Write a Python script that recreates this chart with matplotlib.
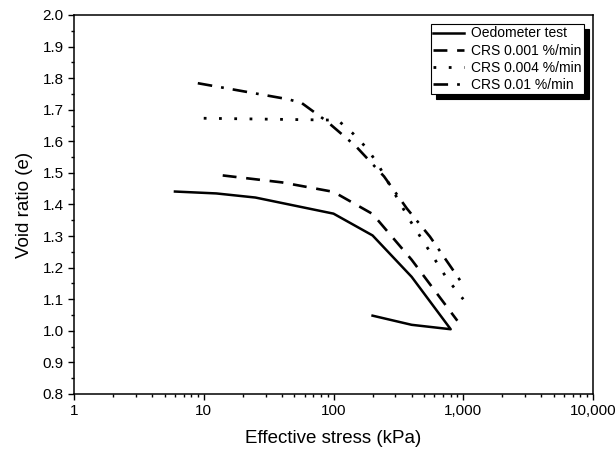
import matplotlib
matplotlib.use("Agg")
import matplotlib.pyplot as plt
from matplotlib.ticker import FixedLocator, FuncFormatter, MultipleLocator, LogLocator, NullFormatter

plt.rcParams['font.family'] = ['Liberation Sans', 'DejaVu Sans']
plt.rcParams['lines.scale_dashes'] = False

# Oedometer test (loading then unloading)
oedo_stress = [6, 12.5, 25, 100, 200, 400, 800, 400, 200]
oedo_e = [1.441, 1.435, 1.422, 1.371, 1.302, 1.171, 1.005, 1.019, 1.048]

# CRS 0.001 %/min
crs1_stress = [14, 40, 100, 200, 400, 900]
crs1_e = [1.492, 1.47, 1.44, 1.37, 1.225, 1.032]

# CRS 0.004 %/min
crs4_stress = [10, 108, 141, 178, 216, 287, 389, 535, 750, 1000]
crs4_e = [1.673, 1.667, 1.625, 1.581, 1.533, 1.444, 1.349, 1.26, 1.165, 1.10]

# CRS 0.01 %/min
crs10_stress = [9, 45, 57, 89, 149, 245, 368, 554, 819, 1000]
crs10_e = [1.784, 1.733, 1.721, 1.663, 1.584, 1.489, 1.387, 1.298, 1.197, 1.145]

labels = ["Oedometer test", "CRS 0.001 %/min", "CRS 0.004 %/min", "CRS 0.01 %/min"]
xticks = [1, 10, 100, 1000, 10000]

fig = plt.figure(figsize=(6.16, 4.57), dpi=100)
ax = fig.add_axes([0.1201, 0.1379, 0.8426, 0.8293])

ax.plot(oedo_stress, oedo_e, color="black", lw=1.8, label=labels[0])
ax.plot(crs1_stress, crs1_e, color="black", lw=1.9, dashes=(10, 7), label=labels[1])
ax.plot(crs4_stress, crs4_e, color="black", lw=2.0, dashes=(2, 9), label=labels[2])
ax.plot(crs10_stress, crs10_e, color="black", lw=1.9, dashes=(10.5, 6.5, 2, 6.5), label=labels[3])

ax.set_xscale("log")
ax.set_xlim(1, 10000)
ax.set_ylim(0.8, 2.0)
ax.xaxis.set_major_locator(FixedLocator(xticks))
ax.xaxis.set_major_formatter(FuncFormatter(lambda v, p: f"{v:,.0f}"))
ax.xaxis.set_minor_locator(LogLocator(base=10, subs=range(2, 10)))
ax.xaxis.set_minor_formatter(NullFormatter())
ax.yaxis.set_major_locator(MultipleLocator(0.1))
ax.yaxis.set_minor_locator(MultipleLocator(0.05))
ax.yaxis.set_major_formatter(FuncFormatter(lambda v, p: f"{v:.1f}"))

ax.tick_params(which="both", direction="out", top=False, right=False, labelsize=11, width=1.0)
ax.tick_params(which="major", length=4)
ax.tick_params(which="minor", length=2.5)
for s in ax.spines.values():
    s.set_linewidth(1.1)

ax.set_xlabel("Effective stress (kPa)", fontsize=13.5, labelpad=8)
ax.set_ylabel("Void ratio (e)", fontsize=13.5, labelpad=7)

leg = ax.legend(loc="upper right", bbox_to_anchor=(0.983, 0.977), fontsize=10,
                frameon=True, fancybox=False, edgecolor="black", framealpha=1,
                shadow={"ox": 3.6, "oy": -3.6, "color": "black", "alpha": 1},
                borderpad=0.2, labelspacing=0.22, handlelength=2.2, handletextpad=0.5,
                borderaxespad=0)
leg.get_frame().set_linewidth(0.8)

fig.savefig("out.png", dpi=100)
